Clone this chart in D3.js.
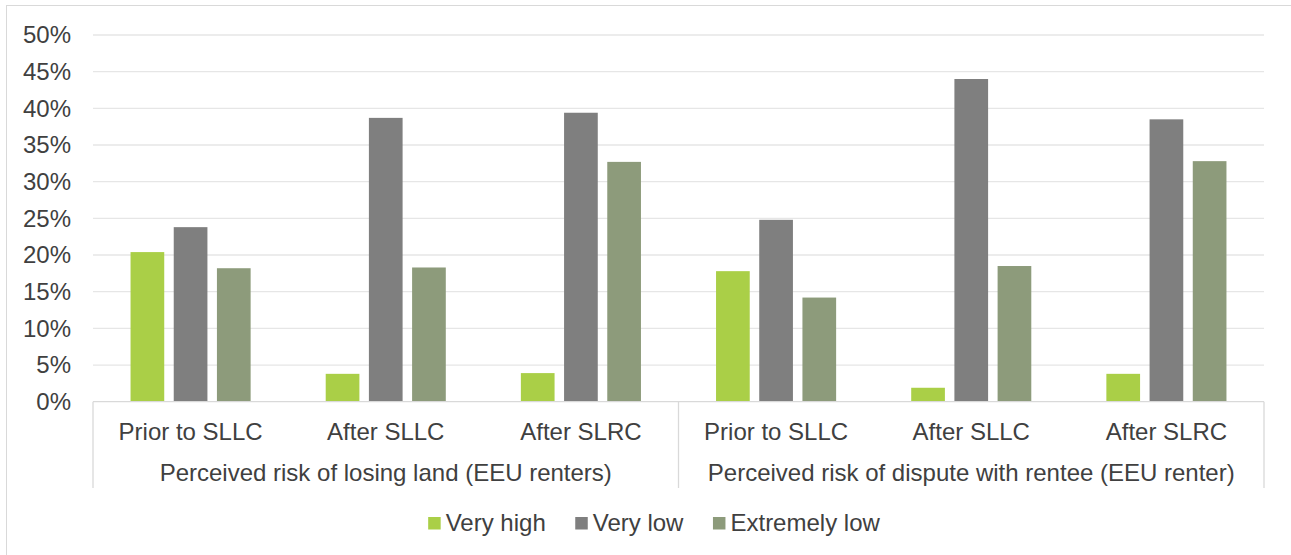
<!DOCTYPE html>
<html>
<head>
<meta charset="utf-8">
<script src="https://cdn.jsdelivr.net/npm/d3@7"></script>
<style>
  html, body { margin: 0; padding: 0; background: #fff; }
  svg { display: block; font-family: "Liberation Sans", Arial, sans-serif; }
</style>
</head>
<body>
<svg id="chart" width="1291" height="555"></svg>
<script>
// Sub-categories (inner axis level) and their parent groups (outer level)
const categories = ["Prior to SLLC", "After SLLC", "After SLRC", "Prior to SLLC", "After SLLC", "After SLRC"];
const groups = ["Perceived risk of losing land (EEU renters)", "Perceived risk of dispute with rentee (EEU renter)"];
const groupOf = [0, 0, 0, 1, 1, 1];

// Series (percent values)
const seriesNames = ["Very high", "Very low", "Extremely low"];
const veryHigh     = [20.4, 3.8, 3.9, 17.8, 1.9, 3.8];
const veryLow      = [23.8, 38.7, 39.4, 24.8, 44.0, 38.5];
const extremelyLow = [18.2, 18.3, 32.7, 14.2, 18.5, 32.8];
const seriesValues = [veryHigh, veryLow, extremelyLow];
const seriesColors = ["#aacf47", "#7f7f7f", "#8d9b7b"];

const yTicks = [0, 5, 10, 15, 20, 25, 30, 35, 40, 45, 50];

const svg = d3.select("#chart");
const textColor = "#404040";
const fontSize = 24;

const plot = { left: 93, right: 1264, top: 35, bottom: 401.7 };

// Outer chart frame
svg.append("rect")
  .attr("x", 6.5).attr("y", 5.5)
  .attr("width", 1310).attr("height", 600)
  .attr("fill", "none").attr("stroke", "#d9d9d9").attr("stroke-width", 1);

const y = d3.scaleLinear().domain([0, 50]).range([plot.bottom, plot.top]);

const keys = categories.map((c, i) => i);
const x0 = d3.scaleBand().domain(keys).range([plot.left, plot.right]).padding(0);
const x1 = d3.scaleBand().domain(d3.range(seriesNames.length))
  .range([0, x0.bandwidth()]).paddingInner(0.22).paddingOuter(0.869);

// Gridlines
svg.append("g")
  .selectAll("line").data(yTicks.filter(t => t > 0)).join("line")
  .attr("x1", plot.left).attr("x2", plot.right)
  .attr("y1", d => y(d)).attr("y2", d => y(d))
  .attr("stroke", "#e6e6e6").attr("stroke-width", 1.3);

// Y axis labels
const yAxis = d3.axisLeft(y).tickValues(yTicks).tickFormat(d => d + "%").tickSize(0).tickPadding(22);
const yg = svg.append("g").attr("transform", `translate(${plot.left},0)`).call(yAxis);
yg.select(".domain").remove();
yg.selectAll("text")
  .attr("fill", textColor).attr("font-size", fontSize)
  .attr("font-family", "'Liberation Sans', Arial, sans-serif");

// Bars
const rows = [];
seriesValues.forEach((vals, s) => vals.forEach((v, i) => rows.push({ s, i, v })));
svg.append("g")
  .selectAll("rect").data(rows).join("rect")
  .attr("x", d => x0(d.i) + x1(d.s))
  .attr("width", x1.bandwidth())
  .attr("y", d => y(d.v))
  .attr("height", d => y(0) - y(d.v))
  .attr("fill", d => seriesColors[d.s]);

// Multi-level category axis
const axisColor = "#d9d9d9";
const axisG = svg.append("g");
axisG.append("line")
  .attr("x1", plot.left).attr("x2", plot.right)
  .attr("y1", y(0)).attr("y2", y(0))
  .attr("stroke", axisColor).attr("stroke-width", 1.3);

const groupEdges = [0, 3, 6].map(k => k < 6 ? x0(k) : plot.right);
axisG.selectAll("line.div").data(groupEdges).join("line")
  .attr("class", "div")
  .attr("x1", d => d).attr("x2", d => d)
  .attr("y1", y(0)).attr("y2", 488)
  .attr("stroke", axisColor).attr("stroke-width", 1.3);

axisG.selectAll("text.cat").data(keys).join("text")
  .attr("class", "cat")
  .attr("x", d => x0(d) + x0.bandwidth() / 2)
  .attr("y", 432)
  .attr("dy", "0.35em")
  .attr("text-anchor", "middle")
  .attr("fill", textColor).attr("font-size", fontSize)
  .text(d => categories[d]);

axisG.selectAll("text.grp").data(groups).join("text")
  .attr("class", "grp")
  .attr("x", (d, g) => {
    const idx = keys.filter(k => groupOf[k] === g);
    return (x0(idx[0]) + x0(idx[idx.length - 1]) + x0.bandwidth()) / 2;
  })
  .attr("y", 473)
  .attr("dy", "0.35em")
  .attr("text-anchor", "middle")
  .attr("fill", textColor).attr("font-size", fontSize)
  .text(d => d);

// Legend
const legend = svg.append("g");
const items = legend.selectAll("g").data(seriesNames).join("g");
items.append("rect")
  .attr("width", 12.5).attr("height", 12.5)
  .attr("y", 517)
  .attr("fill", (d, i) => seriesColors[i]);
items.append("text")
  .attr("x", 17.5).attr("y", 523).attr("dy", "0.35em")
  .attr("fill", textColor).attr("font-size", fontSize)
  .text(d => d);
let cursor = 0;
const offsets = [];
items.each(function () {
  offsets.push(cursor);
  const w = d3.select(this).select("text").node().getComputedTextLength();
  cursor += 17.5 + w + 29.5;
});
const totalW = cursor - 29.5;
const legendCenter = 654;
items.attr("transform", (d, i) => `translate(${legendCenter - totalW / 2 + offsets[i]},0)`);
</script>
</body>
</html>
